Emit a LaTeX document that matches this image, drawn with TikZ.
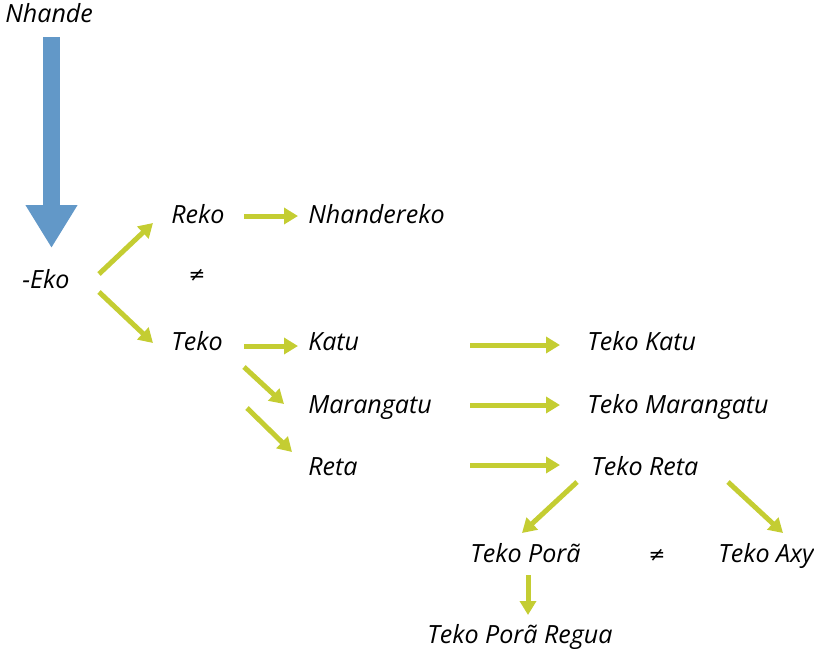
\documentclass[tikz,border=0pt]{standalone}
\usepackage{fontspec}
\setmainfont{Open Sans}
\newfontfamily\symfont{DejaVu Sans}
\usetikzlibrary{arrows.meta,calc}
\definecolor{bluearr}{RGB}{98,152,200}
\definecolor{greenarr}{RGB}{196,205,50}
\tikzset{
  lbl/.style={anchor=base west, inner sep=0pt, font=\itshape\fontsize{18.8}{22}\selectfont},
  neq/.style={inner sep=0pt, font=\symfont\fontsize{15}{16}\selectfont},
  garrow/.style={draw=greenarr, line width=3.75pt, -{Triangle[length=10.5pt,width=12pt]}},
  barrow/.style={draw=bluearr, line width=12.75pt, -{Triangle[length=32.25pt,width=36.75pt]}}
}
\begin{document}
\begin{tikzpicture}[x=0.75pt,y=-0.75pt]
\useasboundingbox (0,0) rectangle (814,650);
\node[lbl] (nhande) at (5,22) {Nhande};
\node[lbl] (eko) at (22,288) {-Eko};
\node[lbl] (reko) at (171,223) {Reko};
\node[neq] (ne1) at (197,275) {≠};
\node[lbl] (nhandereko) at (308,223) {Nhandereko};
\node[lbl] (teko) at (171,350) {Teko};
\node[lbl] (katu) at (308,350) {Katu};
\node[lbl] (marangatu) at (308,413) {Marangatu};
\node[lbl] (reta) at (308,475) {Reta};
\node[lbl] (tkatu) at (587,350) {Teko Katu};
\node[lbl] (tmar) at (587,413) {Teko Marangatu};
\node[lbl] (treta) at (591,475) {Teko Reta};
\node[lbl] (tpora) at (470,562) {Teko Porã};
\node[neq] (ne2) at (657,555) {≠};
\node[lbl] (taxy) at (718,562) {Teko Axy};
\node[lbl] (regua) at (427,643) {Teko Porã Regua};

\draw[barrow] ($(nhande.base west)+(46.5,15)$) -- ($(eko.base west)+(29.5,-40)$);

\draw[garrow] ($(eko.base west)+(77,-14)$) -- ($(reko.base west)+(-18,0)$);
\draw[garrow] ($(eko.base west)+(77,4)$) -- ($(teko.base west)+(-18,-7)$);
\draw[garrow] ($(reko.base west)+(73,-7)$) -- ($(nhandereko.base west)+(-10,-7)$);
\draw[garrow] ($(teko.base west)+(73,-4)$) -- ($(katu.base west)+(-10,-4)$);
\draw[garrow] ($(teko.base west)+(73,17)$) -- ($(marangatu.base west)+(-24,-9)$);
\draw[garrow] ($(teko.base west)+(76,58)$) -- ($(reta.base west)+(-16,-23)$);
\draw[garrow] ($(katu.base west)+(162,-5)$) -- ($(tkatu.base west)+(-27,-5)$);
\draw[garrow] ($(marangatu.base west)+(162,-8)$) -- ($(tmar.base west)+(-27,-8)$);
\draw[garrow] ($(reta.base west)+(162,-10)$) -- ($(treta.base west)+(-31,-10)$);
\draw[garrow] ($(treta.base west)+(-14,7)$) -- ($(tpora.base west)+(52,-29)$);
\draw[garrow] ($(treta.base west)+(137,7)$) -- ($(taxy.base west)+(65,-29)$);
\draw[garrow] ($(tpora.base west)+(58,13)$) -- ($(regua.base west)+(101,-28)$);
\end{tikzpicture}
\end{document}
